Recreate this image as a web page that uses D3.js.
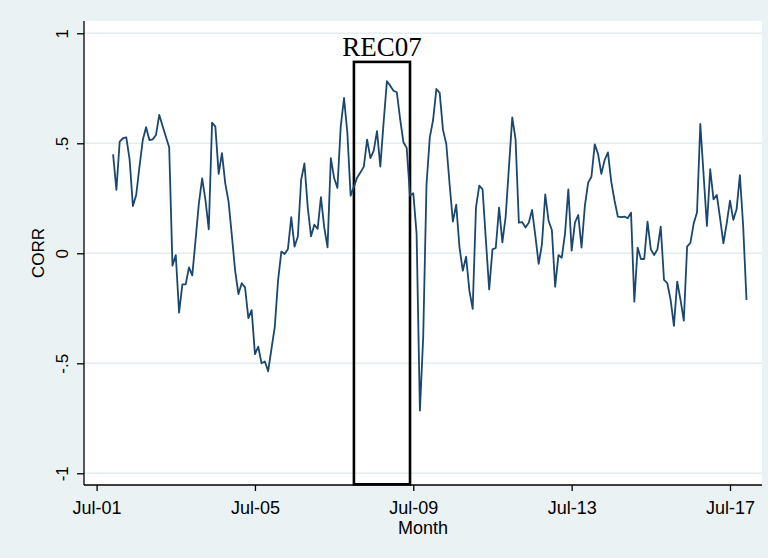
<!DOCTYPE html>
<html>
<head>
<meta charset="utf-8">
<script src="https://cdn.jsdelivr.net/npm/d3@7"></script>
<style>
  body { margin: 0; background: #eaf2f3; }
  svg { display: block; }
</style>
</head>
<body>
<div id="chart"></div>
<script>
// monthly correlation, first observation Dec 2001
const firstMonth = '2001-12';
const corr = [
  0.45, 0.288, 0.508, 0.523, 0.527, 0.427, 0.215, 0.265, 0.394, 0.515,
  0.573, 0.515, 0.518, 0.538, 0.629, 0.579, 0.53, 0.482, -0.056, -0.008,
  -0.27, -0.141, -0.141, -0.064, -0.1, 0.061, 0.227, 0.341, 0.242, 0.109,
  0.594, 0.576, 0.361, 0.455, 0.318, 0.235, 0.08, -0.08, -0.185, -0.136,
  -0.155, -0.295, -0.258, -0.458, -0.424, -0.5, -0.492, -0.536, -0.435, -0.336,
  -0.124, 0.008, -0.003, 0.02, 0.164, 0.03, 0.076, 0.333, 0.409, 0.209,
  0.077, 0.13, 0.111, 0.255, 0.118, 0.027, 0.433, 0.342, 0.297, 0.576,
  0.706, 0.55, 0.262, 0.303, 0.345, 0.368, 0.394, 0.517, 0.433, 0.467,
  0.555, 0.394, 0.595, 0.782, 0.762, 0.739, 0.732, 0.611, 0.505, 0.479,
  0.262, 0.273, 0.088, -0.715, -0.382, 0.312, 0.527, 0.606, 0.747, 0.729,
  0.561, 0.497, 0.315, 0.144, 0.221, 0.027, -0.079, -0.015, -0.17, -0.253,
  0.209, 0.308, 0.291, 0.06, -0.164, 0.018, 0.024, 0.208, 0.05, 0.167,
  0.394, 0.618, 0.518, 0.139, 0.142, 0.117, 0.139, 0.197, 0.079, -0.048,
  0.042, 0.268, 0.148, 0.106, -0.152, -0.008, -0.02, 0.091, 0.291, 0.012,
  0.139, 0.174, 0.026, 0.215, 0.321, 0.348, 0.495, 0.452, 0.361, 0.424,
  0.459, 0.326, 0.24, 0.167, 0.164, 0.167, 0.159, 0.185, -0.22, 0.026,
  -0.026, -0.026, 0.144, 0.018, -0.008, 0.018, 0.121, -0.121, -0.136, -0.212,
  -0.33, -0.129, -0.212, -0.306, 0.03, 0.048, 0.136, 0.185, 0.588, 0.356,
  0.124, 0.382, 0.245, 0.265, 0.159, 0.045, 0.136, 0.239, 0.152, 0.2,
  0.355, 0.121, -0.212
];

const xTickMonths = ['2001-07', '2005-07', '2009-07', '2013-07', '2017-07'];
const xTickLabels = ['Jul-01', 'Jul-05', 'Jul-09', 'Jul-13', 'Jul-17'];
const yTicks = [-1, -0.5, 0, 0.5, 1];

// recession box
const recLabel = 'REC07';
const recMonths = ['2008-01', '2009-06'];
const recRange = [-1.05, 0.87];

const LINE_COLOR = '#1a476f';
const BG_COLOR = '#eaf2f3';
const SANS = '"Liberation Sans", Arial, Helvetica, sans-serif';

const width = 768;
const height = 558;
const plot = { left: 84, right: 762, top: 21, bottom: 485 };

function monthIndex(str) {
  const [y, m] = str.split('-').map(Number);
  return y * 12 + (m - 1);
}

const start = monthIndex(firstMonth);
const points = corr.map((v, i) => ({ m: start + i, v }));

const x = d3.scaleLinear()
  .domain([monthIndex(xTickMonths[0]), monthIndex(xTickMonths[xTickMonths.length - 1])])
  .range([96.6, 730]);
const y = d3.scaleLinear()
  .domain([-1, 1])
  .range([473.3, 33.3]);

const svg = d3.select('#chart')
  .append('svg')
  .attr('width', width)
  .attr('height', height)
  .style('font-family', SANS);

svg.append('rect')
  .attr('width', width)
  .attr('height', height)
  .attr('fill', BG_COLOR);

svg.append('rect')
  .attr('x', plot.left)
  .attr('y', plot.top)
  .attr('width', plot.right - plot.left)
  .attr('height', plot.bottom - plot.top)
  .attr('fill', '#fff');

// gridlines
svg.append('g')
  .selectAll('line')
  .data(yTicks)
  .enter()
  .append('line')
  .attr('x1', plot.left)
  .attr('x2', plot.right)
  .attr('y1', (d) => y(d))
  .attr('y2', (d) => y(d))
  .attr('stroke', '#e3ecee')
  .attr('stroke-width', 1.4);

// recession box
const recX0 = x(monthIndex(recMonths[0]));
const recX1 = x(monthIndex(recMonths[1]));
svg.append('rect')
  .attr('x', recX0)
  .attr('y', y(recRange[1]))
  .attr('width', recX1 - recX0)
  .attr('height', y(recRange[0]) - y(recRange[1]))
  .attr('fill', 'none')
  .attr('stroke', '#000')
  .attr('stroke-width', 2.6);

svg.append('text')
  .attr('x', (recX0 + recX1) / 2)
  .attr('y', y(recRange[1]) - 6)
  .attr('text-anchor', 'middle')
  .attr('font-family', '"Liberation Serif", "Times New Roman", serif')
  .attr('font-size', 27)
  .attr('fill', '#000')
  .text(recLabel);

const line = d3.line()
  .x((d) => x(d.m))
  .y((d) => y(d.v));

svg.append('path')
  .datum(points)
  .attr('fill', 'none')
  .attr('stroke', LINE_COLOR)
  .attr('stroke-width', 1.8)
  .attr('stroke-linejoin', 'round')
  .attr('d', line);

// axes
const xAxis = svg.append('g')
  .attr('transform', `translate(0,${plot.bottom})`)
  .call(d3.axisBottom(x)
    .tickValues(xTickMonths.map(monthIndex))
    .tickFormat((d, i) => xTickLabels[i])
    .tickSize(6)
    .tickSizeOuter(0));
xAxis.select('.domain')
  .attr('d', `M${plot.left},0H${plot.right}`)
  .attr('stroke-width', 1.3);
xAxis.selectAll('.tick line').attr('stroke-width', 1.3);
xAxis.selectAll('.tick text')
  .attr('y', 28.5)
  .attr('dy', null)
  .attr('font-size', 18)
  .attr('font-family', SANS)
  .attr('fill', '#000');

const yAxis = svg.append('g')
  .attr('transform', `translate(${plot.left},0)`)
  .call(d3.axisLeft(y)
    .tickValues(yTicks)
    .tickFormat((d) => (d === 0 ? '0' : String(d).replace('0.', '.')))
    .tickSize(7)
    .tickSizeOuter(0));
yAxis.select('.domain')
  .attr('d', `M0,${plot.top}V${plot.bottom}`)
  .attr('stroke-width', 1.3);
yAxis.selectAll('.tick line').attr('stroke-width', 1.3);
yAxis.selectAll('.tick text')
  .attr('x', null)
  .attr('dy', null)
  .attr('text-anchor', 'middle')
  .attr('transform', 'translate(-16,0) rotate(-90)')
  .attr('font-size', 17)
  .attr('font-family', SANS)
  .attr('fill', '#000');

// axis titles
svg.append('text')
  .attr('x', (plot.left + plot.right) / 2)
  .attr('y', 534)
  .attr('text-anchor', 'middle')
  .attr('font-size', 18)
  .attr('fill', '#000')
  .text('Month');

svg.append('text')
  .attr('transform', `translate(44,${(plot.top + plot.bottom) / 2}) rotate(-90)`)
  .attr('text-anchor', 'middle')
  .attr('font-size', 17)
  .attr('fill', '#000')
  .text('CORR');
</script>
</body>
</html>
